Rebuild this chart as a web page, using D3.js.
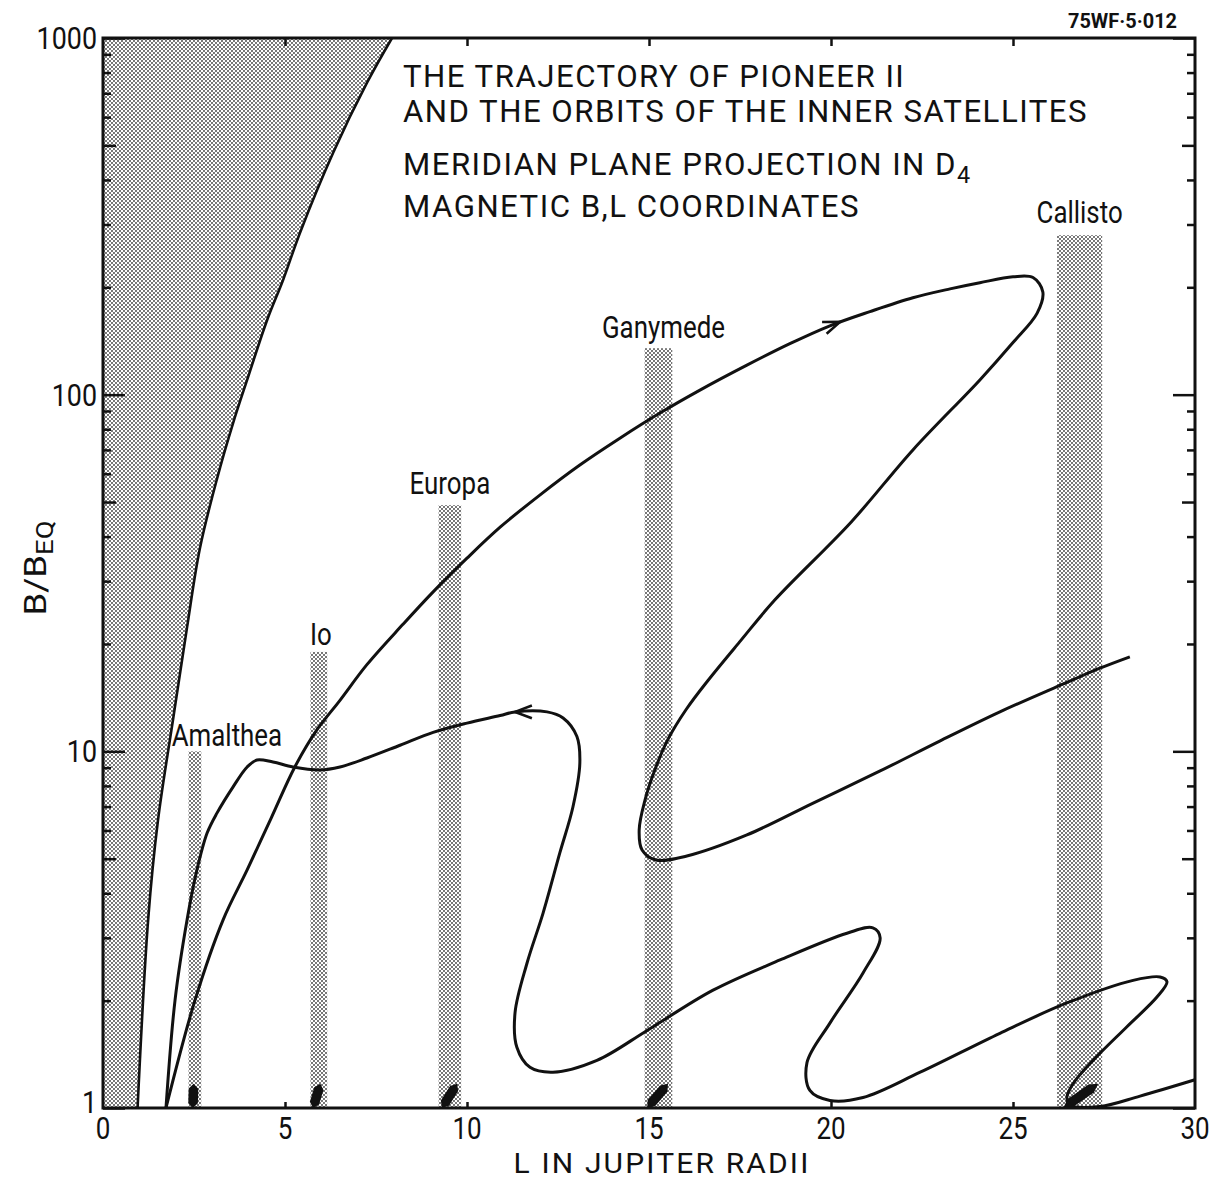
<!DOCTYPE html>
<html>
<head>
<meta charset="utf-8">
<title>Pioneer II trajectory, B-L coordinates</title>
<script src="https://cdn.jsdelivr.net/npm/d3@7/dist/d3.min.js"></script>
<style>
  body { margin: 0; background: #fff; }
  text { font-family: Roboto, "DejaVu Sans", sans-serif; fill: #111; }
</style>
</head>
<body>
<div id="graph"></div>
<script>
// planet surface line (left shaded area), L and B/Beq
var surfaceL = [0.95, 1.24, 1.51, 1.92, 2.31, 2.66, 3.13, 3.57, 3.96, 4.51, 4.95, 5.41, 6.32, 7.25, 7.94];
var surfaceB = [1, 3.37, 6.4, 12.2, 22.3, 37, 58, 83, 110, 162, 210, 284, 476, 748, 1000];

// trajectory, two branches meeting at periapsis  [L, B/Beq]
var branchA = [[1.73, 1.0], [2.53, 2.01], [3.30, 3.37], [3.96, 4.65], [4.62, 6.50], [5.27, 9.04],
    [5.88, 11.5], [6.51, 13.9], [7.25, 17.5], [8.24, 22.7], [9.07, 28.0], [10.0, 34.8],
    [10.91, 42.5], [12.0, 52.3], [13.10, 63.5], [14.20, 75.5], [15.30, 88.8], [16.40, 103],
    [17.69, 121], [18.87, 139], [19.97, 156], [21.07, 171], [22.25, 187], [23.27, 198],
    [24.09, 206], [25.0, 214], [25.55, 213], [25.82, 194], [25.66, 169], [25.0, 140],
    [24.09, 110], [22.25, 70], [20.55, 43.9], [18.46, 26.6], [17.53, 20.5], [16.62, 15.8],
    [16.02, 13.1], [15.52, 10.8], [15.16, 8.87], [14.89, 7.30], [14.73, 6.02], [14.81, 5.29],
    [15.19, 4.96], [16.04, 5.09], [17.69, 5.83], [19.51, 7.16], [21.35, 8.81], [23.0, 10.7],
    [24.64, 12.9], [26.48, 15.6], [27.39, 17.1], [28.21, 18.4]];

var branchB = [[1.73, 1.0], [1.98, 2.01], [2.31, 3.37], [2.58, 4.65], [2.86, 5.90], [3.13, 6.71],
    [3.57, 7.94], [3.96, 9.04], [4.23, 9.46], [4.67, 9.33], [5.22, 9.04], [5.96, 8.87],
    [6.51, 9.04], [7.25, 9.58], [8.16, 10.4], [9.07, 11.3], [10.0, 12.0], [10.91, 12.6],
    [11.32, 12.9], [12.20, 12.9], [12.64, 12.4], [13.02, 11.0], [13.10, 9.27], [12.91, 6.98],
    [12.55, 5.19], [12.09, 3.52], [11.65, 2.55], [11.32, 1.85], [11.37, 1.48], [11.73, 1.30],
    [12.36, 1.26], [13.57, 1.36], [14.95, 1.65], [16.76, 2.14], [18.60, 2.60], [20.44, 3.09],
    [21.15, 3.20], [21.35, 3.00], [20.88, 2.39], [19.97, 1.73], [19.34, 1.34], [19.42, 1.12],
    [19.97, 1.05], [20.88, 1.07], [22.45, 1.26], [24.64, 1.62], [26.48, 1.97], [28.30, 2.28],
    [29.04, 2.33], [29.23, 2.26], [28.96, 2.05], [28.13, 1.69], [27.20, 1.36], [26.65, 1.17],
    [26.48, 1.07], [26.57, 1.02], [27.39, 1.01], [28.49, 1.08], [30.0, 1.2]];

// direction arrows on the trajectory
var arrowFrom = [[19.15, 145], [12.14, 12.9]];
var arrowTo = [[20.25, 160], [11.32, 12.9]];

// satellites
var satNames = ["Amalthea", "Io", "Europa", "Ganymede", "Callisto"];
var bandL0 = [2.35, 5.70, 9.22, 14.88, 26.21];
var bandL1 = [2.70, 6.16, 9.84, 15.64, 27.45];
var bandTopB = [10, 19, 49, 135, 280];
var markerL0 = [2.47, 5.77, 9.31, 14.95, 26.38];
var markerL1 = [2.49, 5.97, 9.73, 15.52, 27.34];
var markerTopB = 1.17;

// axes
var xTicks = [0, 5, 10, 15, 20, 25, 30];
var xInner = [5, 10, 15, 20, 25];
var yTicks = [1, 10, 100, 1000];
var yFives = [5, 50, 500];
var yMinor = [2, 3, 4, 6, 7, 8, 9, 20, 30, 40, 60, 70, 80, 90, 200, 300, 400, 600, 700, 800, 900];

var el = document.getElementById('graph');
var margin = { top: 38, right: 21, bottom: 73, left: 103 },
    width = 1216 - margin.left - margin.right,
    height = 1181 - margin.top - margin.bottom;

var root = d3.select(el).append("svg")
    .attr("width", 1216)
    .attr("height", 1181);

// halftone dots
var pat = root.append("defs").append("pattern")
    .attr("id", "dots")
    .attr("patternUnits", "userSpaceOnUse")
    .attr("width", 4).attr("height", 4);
pat.append("circle").attr("cx", 1).attr("cy", 1).attr("r", 0.88).attr("fill", "#333");
pat.append("circle").attr("cx", 3).attr("cy", 3).attr("r", 0.88).attr("fill", "#333");

var svg = root.append("g")
    .attr("transform", "translate(" + margin.left + "," + margin.top + ")");

var x = d3.scaleLinear().domain([0, 30]).range([0, width]);
var y = d3.scaleLog().domain([1, 1000]).range([height, 0]);

var smooth = d3.line()
    .x(function (d) { return x(d[0]); })
    .y(function (d) { return y(d[1]); })
    .curve(d3.curveCatmullRom.alpha(0.5));

// shaded area inside the planet
var surface = surfaceL.map(function (l, i) { return [l, surfaceB[i]]; });
svg.append("path")
    .attr("d", smooth(surface) + "L" + x(0) + "," + y(1000) + "L" + x(0) + "," + y(1) + "Z")
    .attr("fill", "url(#dots)");
svg.append("path")
    .attr("d", smooth(surface))
    .attr("fill", "none")
    .attr("stroke", "#111")
    .attr("stroke-width", 2.6);

// satellite bands
svg.selectAll(".band")
    .data(satNames)
    .enter().append("rect")
    .attr("class", "band")
    .attr("x", function (d, i) { return x(bandL0[i]); })
    .attr("width", function (d, i) { return x(bandL1[i]) - x(bandL0[i]); })
    .attr("y", function (d, i) { return y(bandTopB[i]); })
    .attr("height", function (d, i) { return y(1) - y(bandTopB[i]); })
    .attr("fill", "url(#dots)");

// satellite positions at the base
function wedge(d, i) {
    var x0 = x(markerL0[i]), y0 = y(1), x1 = x(markerL1[i]), y1 = y(markerTopB);
    var dx = x1 - x0, dy = y1 - y0, len = Math.sqrt(dx * dx + dy * dy);
    var nx = -dy / len * 4.8, ny = dx / len * 4.8;
    var ax = x0 + dx * 0.2, ay = y0 + dy * 0.2, bx = x0 + dx * 0.8, by = y0 + dy * 0.8;
    return "M" + x0 + "," + y0 +
        "L" + (ax + nx) + "," + (ay + ny) + "L" + (bx + nx) + "," + (by + ny) +
        "L" + x1 + "," + y1 +
        "L" + (bx - nx) + "," + (by - ny) + "L" + (ax - nx) + "," + (ay - ny) + "Z";
}
svg.selectAll(".marker")
    .data(satNames)
    .enter().append("path")
    .attr("class", "marker")
    .attr("d", wedge)
    .attr("fill", "#111");

// satellite names
var labelDx = [32, 2, 0, 5, 0];
var labelGap = [5, 7, 11, 10, 12];
var probe = svg.append("text").attr("font-size", 31).text("Ganymede");
var satSx = 123 / probe.node().getComputedTextLength();
probe.remove();
svg.selectAll(".satlabel")
    .data(satNames)
    .enter().append("g")
    .attr("class", "satlabel")
    .attr("transform", function (d, i) {
        var cx = (x(bandL0[i]) + x(bandL1[i])) / 2 + labelDx[i];
        return "translate(" + cx + "," + (y(bandTopB[i]) - labelGap[i]) + ") scale(" + satSx + ",1)";
    })
    .append("text")
    .attr("text-anchor", "middle")
    .attr("font-size", 31)
    .text(function (d) { return d; });

// trajectory
[branchA, branchB].forEach(function (b) {
    svg.append("path")
        .datum(b)
        .attr("d", smooth)
        .attr("fill", "none")
        .attr("stroke", "#111")
        .attr("stroke-width", 3);
});

arrowTo.forEach(function (t, i) {
    var f = arrowFrom[i];
    var tx = x(t[0]), ty = y(t[1]);
    var a = Math.atan2(ty - y(f[1]), tx - x(f[0]));
    var s = 18, w = 0.36;
    var p1 = [tx - s * Math.cos(a - w), ty - s * Math.sin(a - w)];
    var p2 = [tx - s * Math.cos(a + w), ty - s * Math.sin(a + w)];
    svg.append("path")
        .attr("d", "M" + p1 + "L" + tx + "," + ty + "L" + p2)
        .attr("fill", "none")
        .attr("stroke", "#111")
        .attr("stroke-width", 2.6);
});

// ticks, pointing inwards on all four sides
function yTickSet(values, len) {
    svg.append("g")
        .attr("class", "tick-left")
        .call(d3.axisLeft(y).tickValues(values).tickSize(-len).tickFormat(""));
    svg.append("g")
        .attr("class", "tick-right")
        .attr("transform", "translate(" + width + ",0)")
        .call(d3.axisRight(y).tickValues(values).tickSize(-len).tickFormat(""));
}
yTickSet(yTicks, 22);
yTickSet(yFives, 13);
yTickSet(yMinor, 8);

svg.append("g")
    .attr("transform", "translate(0," + height + ")")
    .call(d3.axisBottom(x).tickValues(xInner).tickSize(-6).tickFormat(""));
svg.append("g")
    .call(d3.axisTop(x).tickValues(xInner).tickSize(-8).tickFormat(""));

svg.selectAll(".domain").remove();
svg.selectAll(".tick line").attr("stroke", "#111").attr("stroke-width", 2.5);

// frame
svg.append("rect")
    .attr("width", width)
    .attr("height", height)
    .attr("fill", "none")
    .attr("stroke", "#111")
    .attr("stroke-width", 3);

// tick labels
var tickSx = 0.84;
svg.selectAll(".xlabel")
    .data(xTicks)
    .enter().append("g")
    .attr("class", "xlabel")
    .attr("transform", function (d) { return "translate(" + x(d) + "," + (height + 31) + ") scale(" + tickSx + ",1)"; })
    .append("text")
    .attr("text-anchor", "middle")
    .attr("font-size", 31)
    .text(function (d) { return d; });

svg.selectAll(".ylabel")
    .data(yTicks)
    .enter().append("g")
    .attr("class", "ylabel")
    .attr("transform", function (d) {
        var dy = d === 1 ? -6 : 0;
        return "translate(-6," + (y(d) + 11 + dy) + ") scale(" + tickSx + ",1)";
    })
    .append("text")
    .attr("text-anchor", "end")
    .attr("font-size", 32)
    .text(function (d) { return d; });

// axis titles
var xTitle = root.append("g").append("text")
    .attr("font-size", 28)
    .attr("text-anchor", "middle")
    .attr("letter-spacing", 2)
    .text("L IN JUPITER RADII");
var xtSx = 297 / xTitle.node().getComputedTextLength();
xTitle.attr("transform", "translate(662,1173) scale(" + xtSx + ",1)");

var yTitle = root.append("text")
    .attr("font-size", 32)
    .attr("text-anchor", "middle");
yTitle.append("tspan").text("B/B");
yTitle.append("tspan").attr("font-size", 24).attr("dy", 7).text("EQ");
var ytSx = 95 / yTitle.node().getComputedTextLength();
yTitle.attr("transform", "translate(46,568) rotate(-90) scale(" + ytSx + ",1)");

// title block
var title = root.append("g");
var line2 = title.append("text")
    .attr("y", 122)
    .attr("font-size", 32)
    .attr("letter-spacing", 1.5)
    .text("AND THE ORBITS OF THE INNER SATELLITES");
var titleSx = 685 / line2.node().getComputedTextLength();
title.attr("transform", "translate(403,0) scale(" + titleSx + ",1)");
title.append("text")
    .attr("y", 87)
    .attr("font-size", 32)
    .attr("letter-spacing", 1.5)
    .text("THE TRAJECTORY OF PIONEER II");
var line3 = title.append("text")
    .attr("y", 175)
    .attr("font-size", 32)
    .attr("letter-spacing", 1.5)
    .text("MERIDIAN PLANE PROJECTION IN D");
line3.append("tspan").attr("font-size", 24).attr("dy", 8).text("4");
title.append("text")
    .attr("y", 217)
    .attr("font-size", 32)
    .attr("letter-spacing", 1.5)
    .text("MAGNETIC B,L COORDINATES");

// figure code
var code = root.append("text")
    .attr("font-size", 21)
    .attr("font-weight", "bold")
    .attr("text-anchor", "end")
    .text("75WF\u00b75\u00b7012");
var codeSx = 109 / code.node().getComputedTextLength();
code.attr("transform", "translate(1177,28) scale(" + codeSx + ",1)");
</script>
</body>
</html>
